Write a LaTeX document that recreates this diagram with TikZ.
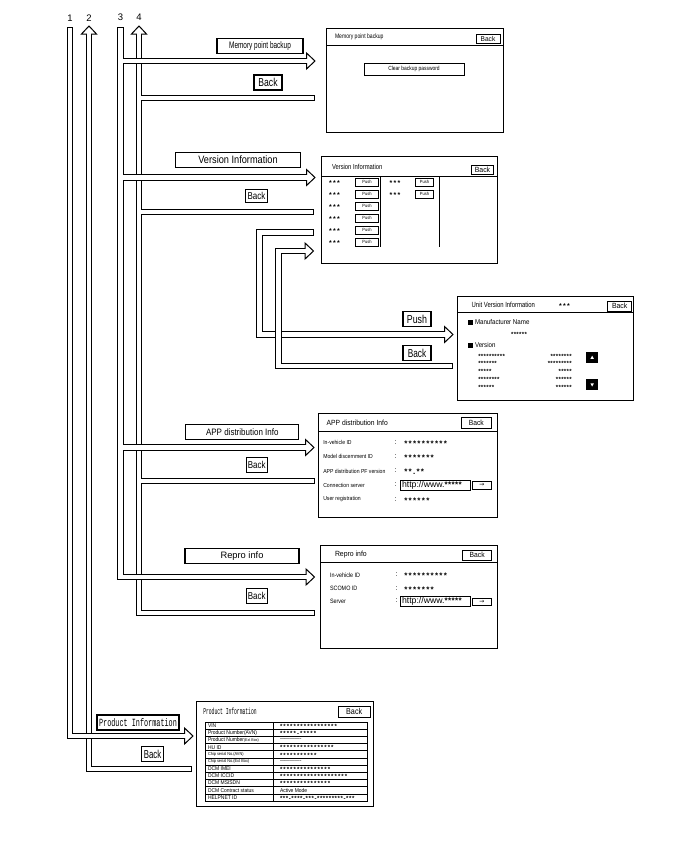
\documentclass[tikz,border=0pt]{standalone}
\usepackage{fontspec}
\usepackage{graphicx}
\setmainfont{Liberation Sans}
\newfontfamily\monof{Liberation Mono}
\newfontfamily\symf{DejaVu Sans}
\newcommand\ff[2]{\fontsize{#1}{#1}\selectfont\addfontfeature{FakeStretch=#2}}
\newcommand\mf[2]{\monof\fontsize{#1}{#1}\selectfont\addfontfeature{FakeStretch=#2}}
\newcommand\stf[2]{\fontsize{#1}{#1}\selectfont\bfseries\addfontfeature{LetterSpace=#2}}
\tikzset{
  every node/.style={inner sep=0pt, outer sep=0pt},
  lbl/.style={draw, line width=1.1pt, fill=white, minimum height=15pt},
  scr/.style={draw, line width=0.9pt, anchor=north west},
  btn/.style={draw, line width=0.6pt, fill=white},
  ob/.style={line width=6.2pt, line join=miter, line cap=butt},
  ib/.style={line width=4.2pt, white, line join=miter, line cap=butt},
  hd/.style={fill=white, draw=black, line width=1pt, line join=miter},
  txt/.style={anchor=west},
}
\begin{document}
\begin{tikzpicture}[x=1pt,y=-1pt]
\useasboundingbox (0,0) rectangle (688,852);
\fill[white] (0,0) rectangle (688,852);

% bus numbers
\node[font=\ff{9.5}{1}] (n1) at (70,18.5) {1};
\node[font=\ff{9.5}{1}] (n2) at (89,18.5) {2};
\node[font=\ff{9.5}{1}] (n3) at (120.5,17) {3};
\node[font=\ff{9.5}{1}] (n4) at (139,17) {4};

% ---------- bus 2 ----------
\coordinate (b2tip) at (89,26);
\coordinate (b2base) at (89,34);
\coordinate (b2corner) at (89,769);
\coordinate (b2end) at (192,769);
\draw[ob] (b2base) -- (b2corner) -- (b2end);
\draw[hd] (b2tip) -- ++(-7.5,8) -- ++(15,0) -- cycle;
\draw[ib, shorten >=1pt] ([yshift=1.2pt]b2base) -- (b2corner) -- (b2end);

% ---------- bus 1 ----------
\coordinate (b1top) at (70,27);
\coordinate (b1corner) at (70,736);
\coordinate (b1base) at (184.5,736);
\coordinate (b1tip) at (193,736);
\draw[ob] (b1top) -- (b1corner) -- (b1base);
\draw[hd] (b1tip) -- ++(-8.5,-8) -- ++(0,16) -- cycle;
\draw[ib, shorten <=1pt] (b1top) -- (b1corner) -- ([xshift=1.2pt]b1base);

% ---------- bus 4 ----------
\coordinate (b4tip) at (139,26);
\coordinate (b4base) at (139,34);
\coordinate (b4corner) at (139,613);
\coordinate (b4end) at (315,613);
\coordinate (b4j1) at (139,98);   \coordinate (bk1) at (315,98);
\coordinate (b4j2) at (139,212);  \coordinate (bk2) at (314,212);
\coordinate (b4j3) at (139,481);  \coordinate (bk3) at (314.5,481);
\draw[ob] (b4base) -- (b4corner) -- (b4end);
\draw[ob] (b4j1) -- (bk1);
\draw[ob] (b4j2) -- (bk2);
\draw[ob] (b4j3) -- (bk3);
\draw[hd] (b4tip) -- ++(-7.5,8) -- ++(15,0) -- cycle;
\draw[ib, shorten >=1pt] ([yshift=1.2pt]b4base) -- (b4corner) -- (b4end);
\draw[ib, shorten >=1pt] (b4j1) -- (bk1);
\draw[ib, shorten >=1pt] (b4j2) -- (bk2);
\draw[ib, shorten >=1pt] (b4j3) -- (bk3);

% ---------- bus 3 ----------
\coordinate (b3top) at (120.5,27);
\coordinate (b3corner) at (120.5,577);
\coordinate (b3base) at (306,577);  \coordinate (b3tip) at (314.5,577);
\coordinate (b3j1) at (120.5,61);   \coordinate (a1b) at (306.5,61);   \coordinate (a1t) at (315,61);
\coordinate (b3j2) at (120.5,177.5);\coordinate (a2b) at (306.5,177.5);\coordinate (a2t) at (315,177.5);
\coordinate (b3j3) at (120.5,447.5);\coordinate (a3b) at (305.5,447.5);\coordinate (a3t) at (314,447.5);
\draw[ob] (b3top) -- (b3corner) -- (b3base);
\draw[ob] (b3j1) -- (a1b);
\draw[ob] (b3j2) -- (a2b);
\draw[ob] (b3j3) -- (a3b);
\foreach \t in {b3tip,a1t,a2t,a3t}
  \draw[hd] (\t) -- ++(-8.5,-8) -- ++(0,16) -- cycle;
\draw[ib, shorten <=1pt] (b3top) -- (b3corner) -- ([xshift=1.2pt]b3base);
\draw[ib] (b3j1) -- ([xshift=1.2pt]a1b);
\draw[ib] (b3j2) -- ([xshift=1.2pt]a2b);
\draw[ib] (b3j3) -- ([xshift=1.2pt]a3b);

% ---------- push path (version -> unit) ----------
\coordinate (p1) at (314,232.5);
\coordinate (p2) at (259.5,232.5);
\coordinate (p3) at (259.5,334.5);
\coordinate (pb) at (444.5,334.5);
\coordinate (pt) at (453,334.5);
\draw[ob] (p1) -- (p2) -- (p3) -- (pb);
\draw[hd] (pt) -- ++(-8.5,-8) -- ++(0,16) -- cycle;
\draw[ib, shorten <=1pt] (p1) -- (p2) -- (p3) -- ([xshift=1.2pt]pb);

% ---------- return path (unit back -> version) ----------
\coordinate (r1) at (453,366);
\coordinate (r2) at (278.5,366);
\coordinate (r3) at (278.5,251);
\coordinate (rb) at (305,251);
\coordinate (rt) at (313.5,251);
\draw[ob] (r1) -- (r2) -- (r3) -- (rb);
\draw[hd] (rt) -- ++(-8.5,-8) -- ++(0,16) -- cycle;
\draw[ib, shorten <=1pt] (r1) -- (r2) -- (r3) -- ([xshift=1.2pt]rb);

% ---------- labels on arrows ----------
\node[lbl, minimum width=86, font=\ff{9.5}{0.68}] (lmem) at (260,45.8) {Memory point backup};
\node[lbl, minimum width=28, font=\ff{11.5}{0.75}] (lbk1) at (268,82.5) {Back};
\node[lbl, minimum width=125, font=\ff{10.7}{0.86}] (lver) at (238,160) {Version Information};
\node[lbl, minimum width=22, minimum height=13, font=\ff{10}{0.8}] (lbk2) at (256.5,196) {Back};
\node[lbl, minimum width=28, font=\ff{11.5}{0.77}] (lpush) at (417,319) {Push};
\node[lbl, minimum width=28, font=\ff{11.5}{0.72}] (lbk3) at (417,353.3) {Back};
\node[lbl, minimum width=113, font=\ff{9.3}{0.86}] (lapp) at (242.3,431.7) {APP distribution Info};
\node[lbl, minimum width=21, font=\ff{10}{0.8}] (lbk4) at (256.7,465) {Back};
\node[lbl, minimum width=114, font=\ff{9.3}{1}] (lrep) at (242,556) {Repro info};
\node[lbl, minimum width=21, font=\ff{10}{0.8}] (lbk5) at (256.7,595.8) {Back};
\node[lbl, minimum width=82, font=\mf{11}{0.62}] (lprod) at (138,722.5) {Product Information};
\node[lbl, minimum width=22, font=\ff{11.5}{0.68}] (lbk6) at (152.5,754) {Back};

% ---------- Memory point backup screen ----------
\node[scr, minimum width=177, minimum height=104] (smem) at (326,28) {};
\draw[line width=0.7pt] (326,45) -- (503,45);
\node[txt, font=\ff{6.5}{0.78}] (tmem) at (335,36.5) {Memory point backup};
\node[btn, minimum width=24, minimum height=9.5, font=\ff{7}{0.94}] (bmem) at (488,38.7) {Back};
\node[btn, minimum width=100, minimum height=11.7, font=\ff{6}{0.82}] (clr) at (414,69) {Clear backup password};

% ---------- Version Information screen ----------
\node[scr, minimum width=175.3, minimum height=106.5] (sver) at (321.7,156.5) {};
\draw[line width=0.7pt] (321.7,176.7) -- (497,176.7);
\node[txt, font=\ff{7.3}{0.8}] (tver) at (332,166.5) {Version Information};
\node[btn, minimum width=21.5, minimum height=9, font=\ff{7.5}{0.92}] (bver) at (482.5,169.5) {Back};
\foreach \i in {0,...,5} {
  \node[font=\stf{7}{17}] (vs\i) at (334.5,182.3+12*\i+1) {***};
  \node[btn, minimum width=22.5, minimum height=7.5, font=\ff{4.5}{0.9}] (vp\i) at (367,182.3+12*\i) {Push};
}
\foreach \i in {0,1} {
  \node[font=\stf{7}{17}] (ws\i) at (395,182.3+12*\i+1) {***};
  \node[btn, minimum width=18, minimum height=7.5, font=\ff{4.5}{0.9}] (wp\i) at (424.5,182.3+12*\i) {Push};
}
\draw[line width=0.6pt] (380.7,176.7) -- (380.7,246.7);
\draw[line width=0.6pt] (439,176.7) -- (439,246.7);

% ---------- Unit Version Information screen ----------
\node[scr, minimum width=176, minimum height=103.6] (sunit) at (457.3,296.7) {};
\draw[line width=0.7pt] (457.3,312) -- (633.3,312);
\node[txt, font=\ff{7.5}{0.79}] (tunit) at (471.7,305) {Unit Version Information};
\node[font=\stf{7}{17}] (ustar) at (564.5,306) {***};
\node[btn, minimum width=24, minimum height=9.7, font=\ff{7.5}{0.92}] (bunit) at (619.7,306.2) {Back};
\fill (468.3,319.7) rectangle (472.7,324.7);
\node[txt, font=\ff{7}{0.88}] (tman) at (475,322) {Manufacturer Name};
\node[font=\stf{6}{6}] (uman) at (519,334.5) {******};
\fill (468.3,342.8) rectangle (472.7,347.8);
\node[txt, font=\ff{7}{0.88}] (tvers) at (475,345.3) {Version};
\node[txt, font=\stf{6}{6}] (ul1) at (478.3,356) {**********};
\node[txt, font=\stf{6}{6}] (ul2) at (478.3,363.5) {*******};
\node[txt, font=\stf{6}{6}] (ul3) at (478.3,371.8) {*****};
\node[txt, font=\stf{6}{6}] (ul4) at (478.3,379.5) {********};
\node[txt, font=\stf{6}{6}] (ul5) at (478.3,387) {******};
\node[anchor=east, font=\stf{6}{6}] (ur1) at (571.7,356) {********};
\node[anchor=east, font=\stf{6}{6}] (ur2) at (571.7,363.5) {*********};
\node[anchor=east, font=\stf{6}{6}] (ur3) at (571.7,371.8) {*****};
\node[anchor=east, font=\stf{6}{6}] (ur4) at (571.7,379.5) {******};
\node[anchor=east, font=\stf{6}{6}] (ur5) at (571.7,387) {******};
\fill (586,352) rectangle (598.3,362.7);
\fill[white] (592.15,355.6) -- (593.9,358.9) -- (590.4,358.9) -- cycle;
\fill (586,379.3) rectangle (598.3,390.3);
\fill[white] (592.15,386.6) -- (593.9,383.3) -- (590.4,383.3) -- cycle;

% ---------- APP distribution Info screen ----------
\node[scr, minimum width=179.4, minimum height=103.7] (sapp) at (318.3,413.3) {};
\draw[line width=0.7pt] (318.3,431.7) -- (497.7,431.7);
\node[txt, font=\ff{7.5}{0.9}] (tapp) at (326.7,423.3) {APP distribution Info};
\node[btn, minimum width=29.3, minimum height=11, font=\ff{7.5}{0.9}] (bapp) at (476.3,422.8) {Back};
\node[txt, font=\ff{5.8}{0.88}] (al1) at (323.3,442.7) {In-vehicle ID};
\node[txt, font=\ff{5.8}{0.88}] (al2) at (323.3,456.7) {Model discernment ID};
\node[txt, font=\ff{5.8}{0.88}] (al3) at (323.3,471) {APP distribution PF version};
\node[txt, font=\ff{5.8}{0.88}] (al4) at (323.3,485) {Connection server};
\node[txt, font=\ff{5.8}{0.88}] (al5) at (323.3,499.3) {User registration};
\foreach \y [count=\k] in {442.7,456.7,471,485,499.3}
  \node[font=\ff{7}{1}] (ac\k) at (395.7,\y) {:};
\node[txt, font=\stf{8}{16}] (av1) at (404.3,443.7) {**********};
\node[txt, font=\stf{8}{16}] (av2) at (404.3,457.7) {*******};
\node[txt, font=\stf{8}{16}] (av3) at (404.3,472) {**.**};
\node[btn, minimum width=70, minimum height=10.7, line width=0.9pt] (aurl) at (435,485.3) {};
\node[txt, font=\ff{8.7}{1}] (aurlt) at (402,485.6) {http://www.\stf{8}{5}*****};
\node[btn, minimum width=19.4, minimum height=8] (aarr) at (482,485) {\symf\fontsize{6}{6}\selectfont →};
\node[txt, font=\stf{8}{16}] (av5) at (404.3,500.3) {******};

% ---------- Repro info screen ----------
\node[scr, minimum width=177, minimum height=103.3] (srep) at (320.7,545) {};
\draw[line width=0.7pt] (320.7,562.7) -- (497.7,562.7);
\node[txt, font=\ff{7.5}{0.92}] (trep) at (335,555) {Repro info};
\node[btn, minimum width=29, minimum height=10, font=\ff{7.5}{0.9}] (brep) at (477.2,555) {Back};
\node[txt, font=\ff{6.3}{0.86}] (rl1) at (330,575) {In-vehicle ID};
\node[txt, font=\ff{6.3}{0.86}] (rl2) at (330,588.3) {SCOMO ID};
\node[txt, font=\ff{6.3}{0.86}] (rl3) at (330,601) {Server};
\foreach \y [count=\k] in {575,588.3,601}
  \node[font=\ff{7}{1}] (rc\k) at (396.7,\y) {:};
\node[txt, font=\stf{8}{16}] (rv1) at (404.3,576) {**********};
\node[txt, font=\stf{8}{16}] (rv2) at (404.3,589.3) {*******};
\node[btn, minimum width=70, minimum height=10.7, line width=0.9pt] (rurl) at (435,601.3) {};
\node[txt, font=\ff{8.7}{1}] (rurlt) at (402,601.6) {http://www.\stf{8}{5}*****};
\node[btn, minimum width=19.4, minimum height=6.7] (rarr) at (482,601.6) {\symf\fontsize{6}{6}\selectfont →};

% ---------- Product Information screen ----------
\node[scr, minimum width=176.6, minimum height=104.3] (sprod) at (196.7,701.7) {};
\node[txt, font=\mf{9}{0.52}] (tprod) at (203.3,711.7) {Product Information};
\node[btn, minimum width=31.7, minimum height=11.3, line width=0.9pt, font=\ff{8.5}{0.85}] (bprod) at (354.2,711.7) {Back};
\draw[line width=0.6pt] (205,722) rectangle (367,801);
\foreach \i in {1,...,10}
  \draw[line width=0.5pt] (205,722+7.18*\i) -- (367,722+7.18*\i);
\draw[line width=0.5pt] (273.3,722) -- (273.3,801);
\foreach \t [count=\k from 0] in {VIN,Product Number(AVN),Product Number{\fontsize{4}{4}\selectfont(Ext Box)},HU ID,{\fontsize{4.3}{4.3}\selectfont Chip serial No.(AVN)},{\fontsize{4.3}{4.3}\selectfont Chip serial No.(Ext Box)},DCM IMEI,DCM ICCID,DCM MSISDN,DCM Contract status,HELPNET ID}
  \node[txt, font=\ff{5.5}{0.9}] (pl\k) at (208,722+7.18*\k+3.59) {\t};
\foreach \t [count=\k from 0] in {*****************,*****-*****,,****************,***********,,***************,********************,***************}
  \node[txt, font=\stf{6}{18}] (pv\k) at (280,722+7.18*\k+4.3) {\t};
\node[txt, font=\stf{6}{10}] (pv10) at (280,722+7.18*10+4.3) {***-****-***-*********-***};
\node[txt, font=\ff{5.5}{0.9}] (pv2d) at (280,722+7.18*2+3.59) {-------------};
\node[txt, font=\ff{5.5}{0.9}] (pv5d) at (280,722+7.18*5+3.59) {-------------};
\node[txt, font=\ff{5.5}{0.9}] (pv9) at (280,722+7.18*9+3.59) {Active Mode};
\end{tikzpicture}
\end{document}
